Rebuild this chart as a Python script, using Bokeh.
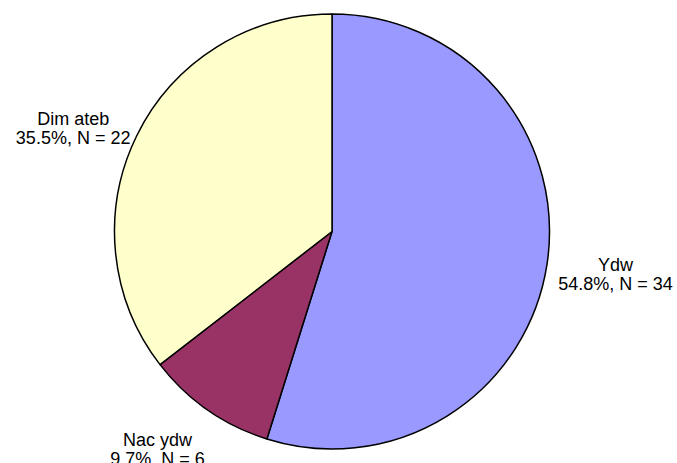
import math
from bokeh.plotting import figure
from bokeh.models import Range1d, ColumnDataSource
from bokeh.core.properties import value
from bokeh.embed import file_html
from bokeh.resources import INLINE

# ---- data ----
categories = ["Ydw", "Nac ydw", "Dim ateb"]
counts = [34, 6, 22]
colors = ["#9999FF", "#993366", "#FFFFCC"]

# ---- layout ----
W, H = 677, 463
R = 217.5
p = figure(width=W, height=H, output_backend="svg", toolbar_location=None,
           x_range=Range1d(-331.5, 345.5), y_range=Range1d(-232, 231),
           min_border=0)
p.axis.visible = False
p.grid.visible = False
p.outline_line_color = None
p.background_fill_color = "white"
p.border_fill_color = "white"

total = sum(counts)
starts, ends, mids, pcts = [], [], [], []
cum = 0.0
for c in counts:
    frac = c / total
    a_start = math.pi / 2 - 2 * math.pi * (cum + frac)
    a_end = math.pi / 2 - 2 * math.pi * cum
    starts.append(a_start)
    ends.append(a_end)
    mids.append((a_start + a_end) / 2)
    pcts.append(100.0 * frac)
    cum += frac

src = ColumnDataSource(dict(start=starts, end=ends, color=colors))
p.wedge(x=0, y=0, radius=R, start_angle="start", end_angle="end",
        fill_color="color", line_color="black", line_width=1.5, source=src)

# label nudges in screen pixels (dx right, dy down) relative to mid-angle anchor
nudge_dx = [4, -13, -5]
nudge_dy1 = [-9, -23.7, 12.5]
nudge_dy2 = [10, -4.7, 31.5]

lx1, ly1, lx2, ly2, t1, t2 = [], [], [], [], [], []
for i, name in enumerate(categories):
    ax = 1.3 * R * math.cos(mids[i])
    ay = 1.3 * R * math.sin(mids[i])
    lx1.append(ax + nudge_dx[i]); ly1.append(ay - nudge_dy1[i])
    lx2.append(ax + nudge_dx[i]); ly2.append(ay - nudge_dy2[i])
    t1.append(name)
    t2.append(f"{pcts[i]:.1f}%, N = {counts[i]}")

for xs, ys, ts in ((lx1, ly1, t1), (lx2, ly2, t2)):
    p.text(x=xs, y=ys, text=ts, text_font=value("Liberation Sans"),
           text_font_size="18px", text_align="center",
           text_baseline="alphabetic", text_color="black")

open("out.html", "w").write(file_html(p, INLINE))
